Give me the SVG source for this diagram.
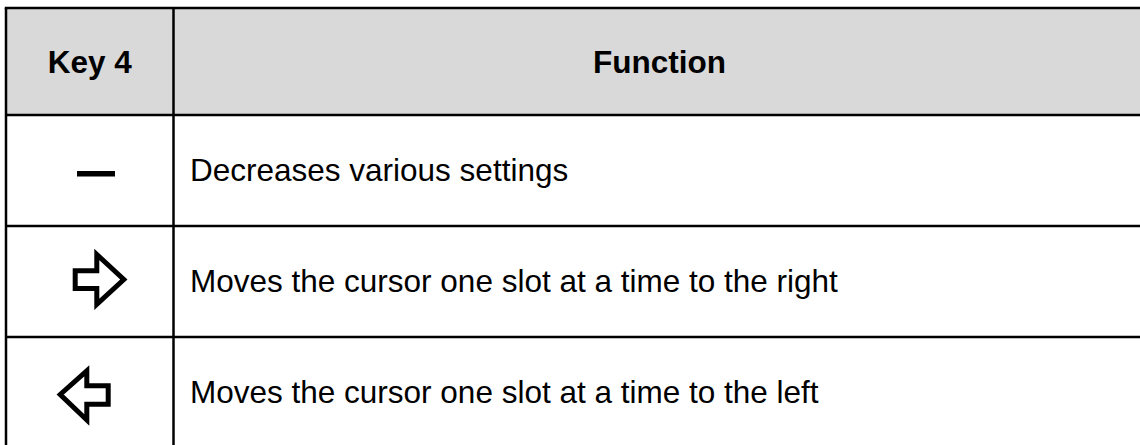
<svg xmlns="http://www.w3.org/2000/svg" width="1140" height="445" viewBox="0 0 1140 445">
<style>
.grid{stroke:#000;stroke-width:2.5;fill:none}
.hdr{font-family:"Liberation Sans",Arial,sans-serif;font-weight:bold;font-size:31.5px;fill:#000;text-anchor:middle}
.txt{font-family:"Liberation Sans",Arial,sans-serif;font-size:31.5px;fill:#000}
.icon{fill:none;stroke:#000;stroke-width:5;stroke-linejoin:miter;stroke-miterlimit:10}
</style>
<rect x="0" y="0" width="1140" height="445" fill="#fff"/>
<g id="header">
<rect x="6" y="8" width="1140" height="107" fill="#d9d9d9"/>
<text class="hdr" x="89.75" y="73">Key 4</text>
<text class="hdr" x="659.5" y="73">Function</text>
</g>
<g id="grid">
<line class="grid" x1="4.75" y1="8" x2="1140" y2="8"/>
<line class="grid" x1="6" y1="8" x2="6" y2="445"/>
<line class="grid" x1="173.5" y1="8" x2="173.5" y2="445"/>
<line class="grid" x1="6" y1="115" x2="1140" y2="115"/>
<line class="grid" x1="6" y1="226" x2="1140" y2="226"/>
<line class="grid" x1="6" y1="337" x2="1140" y2="337"/>
</g>
<g id="row-minus">
<rect x="77" y="171" width="38" height="5.5" fill="#000"/>
<text class="txt" x="190" y="181">Decreases various settings</text>
</g>
<g id="row-right">
<path class="icon" d="M75.2,270.8 H96.8 V254.5 L123.8,279.5 L96.8,304.3 V288.5 H75.2 Z"/>
<text class="txt" x="190" y="292">Moves the cursor one slot at a time to the right</text>
</g>
<g id="row-left">
<path class="icon" d="M108.2,385.8 H86.8 V370.8 L60.2,394.5 L86.8,420 V404.2 H108.2 Z"/>
<text class="txt" x="190" y="403">Moves the cursor one slot at a time to the left</text>
</g>
</svg>
